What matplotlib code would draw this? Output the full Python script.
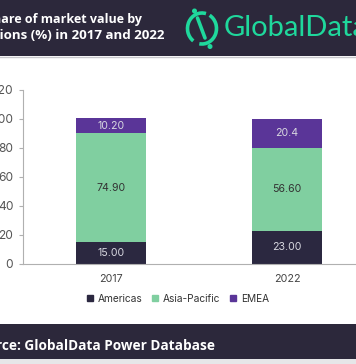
import numpy as np
from matplotlib import pyplot as plt
from matplotlib.patches import Rectangle, Arc, Circle
from matplotlib.lines import Line2D

# dane
godine = ["2017", "2022"]
americas = [15.00, 23.00]
asia_pacific = [74.90, 56.60]
emea = [10.20, 20.4]
oznake_americas = ["15.00", "23.00"]
oznake_asia = ["74.90", "56.60"]
oznake_emea = ["10.20", "20.4"]
serije = ["Americas", "Asia-Pacific", "EMEA"]
boje = ["#2b2840", "#80cfa0", "#5a3598"]

W, H = 356, 364
fig = plt.figure(figsize=(W / 100, H / 100), dpi=100)


def px(x, y):
    # pikseli od gornjeg lijevog ugla -> figure koordinate
    return x / W, 1 - y / H


# zaglavlje
fig.patches.append(Rectangle(px(0, 56), 1, 56 / H, transform=fig.transFigure,
                             facecolor="#2c283b", edgecolor="none", zorder=0))
fig.add_artist(Line2D([0, 1], [1 - 57 / H] * 2, transform=fig.transFigure, color="#c8c8cc", lw=1))
fig.text(*px(-14.5, 20), "Share of market value by", color="white", fontsize=9.0,
         fontweight="bold", family="Open Sans", va="center", ha="left")
fig.text(*px(-22, 36), "regions (%) in 2017 and 2022", color="white", fontsize=9.6,
         fontweight="bold", family="Open Sans", va="center", ha="left")

# logo
zelena = "#1fd89c"
logo = fig.add_axes([0, 0, 1, 1], zorder=5)
logo.set_xlim(0, W)
logo.set_ylim(H, 0)
logo.axis("off")
logo.add_patch(Arc((202, 28.5), 29, 31, theta1=-60, theta2=100, color=zelena, lw=2.6))
logo.add_patch(Arc((202, 28.5), 29, 31, theta1=125, theta2=285, color=zelena, lw=2.6))
logo.plot([197.5, 205], [18, 38], color=zelena, lw=2.6, solid_capstyle="round")
logo.add_patch(Circle((194.5, 11), 1.8, color=zelena))
logo.add_patch(Circle((210, 46.5), 1.8, color=zelena))
fig.text(*px(224, 28), "GlobalData", color=zelena, fontsize=21, family="Lato",
         va="center", ha="left")

# podnozje
fig.patches.append(Rectangle(px(0, 359), 1, 35 / H, transform=fig.transFigure,
                             facecolor="#2c283b", edgecolor="none", zorder=0))
fig.patches.append(Rectangle(px(0, 364), 1, 5 / H, transform=fig.transFigure,
                             facecolor="#e6e6e8", edgecolor="none", zorder=0))
fig.text(*px(-29, 346), "Source: GlobalData Power Database", color="white", fontsize=9.8,
         fontweight="bold", family="Open Sans", va="center", ha="left")

# grafik
ax = fig.add_axes([23 / W, 100 / H, 352 / W, 174.5 / H])
x = np.arange(len(godine))
sirina = 0.4
dno = np.zeros(len(godine))
for vrijednosti, oznake, boja, ime in zip([americas, asia_pacific, emea],
                                         [oznake_americas, oznake_asia, oznake_emea],
                                         boje, serije):
    bars = ax.bar(x, vrijednosti, sirina, bottom=dno, color=boja, label=ime)
    boja_teksta = "#333333" if ime == "Asia-Pacific" else "#d8d8e0"
    for b, t in zip(bars, oznake):
        ax.text(b.get_x() + b.get_width() / 2, b.get_y() + b.get_height() / 2, t,
                ha="center", va="center", fontsize=7.6, color=boja_teksta, family="Inter")
    dno += np.array(vrijednosti)

ax.set_xlim(-0.5, 1.5)
ax.set_ylim(0, 120)
ax.set_yticks(np.arange(0, 121, 20))
ax.set_xticks(x)
ax.set_xticklabels(godine)
for s in ["top", "right"]:
    ax.spines[s].set_visible(False)
ax.spines["left"].set_color("#b0b0b0")
ax.spines["bottom"].set_color("#b0b0b0")
ax.tick_params(axis="y", length=3, color="#b0b0b0", labelsize=8.6, labelcolor="#555555", pad=4)
ax.tick_params(axis="x", length=0, labelsize=7.7, labelcolor="#444444", pad=7)
for lab in ax.get_xticklabels() + ax.get_yticklabels():
    lab.set_family("Inter")

hendlovi = [Line2D([], [], marker="s", ls="none", color=c, markersize=4.5) for c in boje]
fig.legend(hendlovi, serije, loc="center", bbox_to_anchor=px(178, 299), ncol=3,
           frameon=False, handlelength=0.6, handletextpad=0.5, columnspacing=0.9,
           prop={"family": "Inter", "size": 7.3}, labelcolor="#333333")

fig.savefig("out.png", dpi=100)
